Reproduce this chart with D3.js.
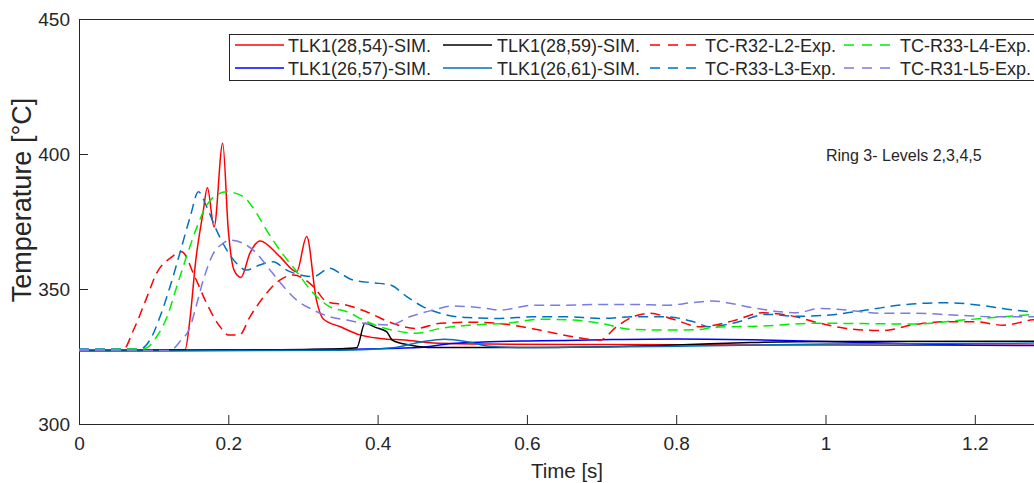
<!DOCTYPE html>
<html><head><meta charset="utf-8">
<script src="https://cdn.jsdelivr.net/npm/d3@7"></script>
<style>
html,body{margin:0;padding:0;background:#fff;overflow:hidden}
text{font-family:"Liberation Sans",Arial,Helvetica,sans-serif;fill:#262626}
</style></head>
<body>
<svg id="chart" width="1034" height="483"></svg>
<script>
// ---- data (time in s, temperature in °C) ----
const xTicks = [0, 0.2, 0.4, 0.6, 0.8, 1, 1.2];
const yTicks = [300, 350, 400, 450];

const t_sim_28_54 = [0, 0.10, 0.142, 0.149, 0.156, 0.166, 0.172, 0.181, 0.1925, 0.2, 0.2077, 0.217, 0.229, 0.2425, 0.269, 0.2916, 0.305, 0.318, 0.327, 0.35, 0.376, 0.403, 0.44, 0.475, 0.55, 0.7, 0.9, 1.1, 1.3];
const v_sim_28_54 = [327.3, 327.4, 327.5, 339.7, 359.6, 378, 387.5, 373, 404, 371.8, 357, 354.3, 363.3, 367.8, 362, 356.4, 369.4, 346, 339, 336, 333, 331.7, 331, 330, 329.6, 329.4, 329.3, 329.2, 329.2];

const t_sim_26_57 = [0, 0.3, 0.45, 0.5, 0.55, 0.62, 0.7, 0.8, 0.9, 1.0, 1.1, 1.2, 1.3];
const v_sim_26_57 = [327.2, 327.5, 328.2, 329.8, 330.5, 330.8, 331.2, 331.5, 331.2, 330.6, 329.8, 329.2, 329];

const t_sim_28_59 = [0, 0.2, 0.35, 0.372, 0.383, 0.397, 0.412, 0.42, 0.443, 0.475, 0.6, 0.8, 0.9, 1.0, 1.3];
const v_sim_28_59 = [327.2, 327.4, 327.9, 328.2, 337.3, 335.8, 334.2, 331, 329.3, 328.3, 328.3, 329.3, 330.2, 330.6, 330.7];

const t_sim_26_61 = [0, 0.35, 0.42, 0.46, 0.49, 0.52, 0.55, 0.6, 0.8, 1.0, 1.3];
const v_sim_26_61 = [327, 327.3, 328.2, 330.5, 331.4, 330.5, 328.8, 328.3, 328.8, 329.6, 330];

const t_R32_L2 = [0, 0.059, 0.073, 0.091, 0.104, 0.122, 0.1375, 0.155, 0.171, 0.189, 0.2, 0.215, 0.229, 0.247, 0.269, 0.287, 0.314, 0.332, 0.359, 0.385, 0.42, 0.452, 0.484, 0.528, 0.573, 0.617, 0.662, 0.698, 0.72, 0.742, 0.765, 0.796, 0.832, 0.876, 0.916, 0.952, 0.993, 1.028, 1.077, 1.117, 1.162, 1.2, 1.238, 1.278, 1.3];
const v_R32_L2 = [327.5, 327.5, 334.8, 347, 355.9, 361.4, 363.8, 354.6, 344.7, 336, 333, 333, 339.7, 347, 353.3, 355.2, 350.9, 345.3, 344, 341.6, 337.3, 335.4, 337.3, 337.7, 336.9, 334.8, 332.3, 331.1, 336, 339.7, 341, 338.8, 336, 338.2, 341.2, 340.2, 337.3, 335.4, 334.6, 336.7, 337.9, 337.9, 336.6, 338.6, 339];

const t_R33_L3 = [0, 0.082, 0.095, 0.1085, 0.122, 0.135, 0.149, 0.16, 0.171, 0.184, 0.198, 0.211, 0.2246, 0.242, 0.26, 0.278, 0.296, 0.314, 0.336, 0.35, 0.367, 0.394, 0.417, 0.439, 0.461, 0.484, 0.52, 0.564, 0.609, 0.653, 0.698, 0.742, 0.787, 0.823, 0.845, 0.876, 0.921, 0.961, 1.006, 1.055, 1.109, 1.162, 1.207, 1.243, 1.274, 1.3];
const v_R33_L3 = [327.8, 327.8, 331.1, 339.7, 350.9, 363.2, 376.8, 386, 380.5, 371.9, 364.4, 359.5, 357, 358.9, 360.1, 357, 355.2, 354.6, 357.7, 355.8, 353.3, 352.3, 351.5, 347.2, 343.4, 341, 339.4, 339.1, 339.7, 339.7, 339.1, 339.7, 339.7, 337.9, 336, 337.3, 340.6, 339.9, 340.4, 342.2, 344.3, 344.9, 344, 342.5, 341.6, 341];

const t_R33_L4 = [0, 0.086, 0.104, 0.118, 0.131, 0.144, 0.158, 0.171, 0.184, 0.198, 0.22, 0.238, 0.251, 0.269, 0.2916, 0.314, 0.336, 0.359, 0.381, 0.403, 0.42, 0.452, 0.484, 0.528, 0.573, 0.618, 0.662, 0.698, 0.742, 0.787, 0.832, 0.849, 0.916, 0.984, 1.05, 1.117, 1.184, 1.229, 1.27, 1.3];
const v_R33_L4 = [327.5, 327.8, 332.3, 339.7, 350.9, 362, 373, 381, 384.8, 386, 384.2, 378, 371.9, 364.4, 356.4, 348.4, 343.4, 341.6, 338.5, 336, 334.8, 333.6, 335.4, 336.7, 337.3, 338.8, 338.5, 337.3, 335, 334.8, 335, 335.8, 336.3, 337.3, 337.2, 337, 338.5, 339.5, 340.4, 340.8];

const t_R31_L5 = [0, 0.122, 0.135, 0.149, 0.158, 0.1665, 0.18, 0.193, 0.202, 0.22, 0.238, 0.256, 0.274, 0.2916, 0.314, 0.336, 0.359, 0.381, 0.417, 0.443, 0.475, 0.501, 0.546, 0.564, 0.609, 0.653, 0.698, 0.742, 0.787, 0.823, 0.849, 0.872, 0.908, 0.939, 0.961, 0.993, 1.028, 1.073, 1.117, 1.171, 1.229, 1.3];
const v_R31_L5 = [327.2, 327.2, 330.5, 336, 344.7, 353.3, 363.2, 366.9, 368.1, 366.9, 363.2, 357, 350.9, 345.9, 342.2, 339.7, 338.5, 337.3, 336.7, 339.7, 342.2, 343.7, 342.8, 342.2, 344, 344, 344.3, 344.3, 344, 345, 345.6, 344.7, 342.8, 341.6, 341.2, 342.8, 342.2, 341, 341, 340.4, 339.7, 339.7];

const seriesNames = ["TLK1(28,54)-SIM.", "TLK1(26,57)-SIM.", "TLK1(28,59)-SIM.", "TLK1(26,61)-SIM.",
                     "TC-R32-L2-Exp.", "TC-R33-L3-Exp.", "TC-R33-L4-Exp.", "TC-R31-L5-Exp."];
const seriesColors = ["#ff0000", "#0000ff", "#000000", "#0072bd", "#ff0000", "#0072bd", "#00ee00", "#7b7be0"];
const seriesDashed = [false, false, false, false, true, true, true, true];
const seriesT = [t_sim_28_54, t_sim_26_57, t_sim_28_59, t_sim_26_61, t_R32_L2, t_R33_L3, t_R33_L4, t_R31_L5];
const seriesV = [v_sim_28_54, v_sim_26_57, v_sim_28_59, v_sim_26_61, v_R32_L2, v_R33_L3, v_R33_L4, v_R31_L5];

// ---- layout ----
const svg = d3.select("#chart");
const L = 79, T = 19, B = 424;
const x = d3.scaleLinear().domain([0, 1.3]).range([L, L + 1.3 * 746.5]);
const y = d3.scaleLinear().domain([300, 450]).range([B, T]);
const R = x(1.3);

svg.append("defs").append("clipPath").attr("id", "clip")
  .append("rect").attr("x", L).attr("y", T).attr("width", R - L).attr("height", B - T);

// axes
const axColor = "#262626";
const gx = svg.append("g").attr("transform", `translate(0,${B})`)
  .call(d3.axisBottom(x).tickValues(xTicks).tickSize(-9).tickPadding(13).tickFormat(d3.format("")));
const gy = svg.append("g").attr("transform", `translate(${L},0)`)
  .call(d3.axisLeft(y).tickValues(yTicks).tickSize(-9).tickPadding(9));
[gx, gy].forEach(g => {
  g.select(".domain").attr("stroke", axColor).attr("stroke-width", 1);
  g.selectAll(".tick line").attr("stroke", axColor).attr("stroke-width", 1);
  g.selectAll(".tick text").style("font-size", "19px").attr("fill", axColor)
    .style("font-family", '"Liberation Sans",Arial,sans-serif');
});
// top border
svg.append("line").attr("x1", L).attr("x2", R).attr("y1", T + 0.5).attr("y2", T + 0.5)
  .attr("stroke", axColor).attr("stroke-width", 1);

// axis labels
svg.append("text").attr("x", 567).attr("y", 478).attr("text-anchor", "middle")
  .style("font-size", "20.5px").text("Time [s]");
svg.append("text").attr("transform", `translate(31,200) rotate(-90)`)
  .attr("text-anchor", "middle").style("font-size", "27px").text("Temperature [°C]");

// lines
const line = d3.line().x(d => x(d[0])).y(d => y(d[1])).curve(d3.curveMonotoneX);
const plot = svg.append("g").attr("clip-path", "url(#clip)");
seriesT.forEach((ts, i) => {
  const pts = ts.map((t, k) => [t, seriesV[i][k]]);
  plot.append("path").datum(pts).attr("d", line).attr("fill", "none")
    .attr("stroke", seriesColors[i]).attr("stroke-width", 1.5)
    .attr("stroke-dasharray", seriesDashed[i] ? "10,6" : null);
});

// annotation
svg.append("text").attr("x", 826).attr("y", 161).style("font-size", "16px").text("Ring 3- Levels 2,3,4,5");

// legend
const lg = svg.append("g");
lg.append("rect").attr("x", 229.5).attr("y", 34.5).attr("width", 840).attr("height", 46)
  .attr("fill", "#fff").attr("stroke", axColor).attr("stroke-width", 1);
const colLineX = [235, 443, 650, 844];
const colTextX = [288, 497, 705, 900];
const rowY = [45, 68];
// [series index, column, row]
const legendSlots = [[0, 0, 0], [1, 0, 1], [2, 1, 0], [3, 1, 1], [4, 2, 0], [5, 2, 1], [6, 3, 0], [7, 3, 1]];
legendSlots.forEach(([i, c, r]) => {
  const gi = lg.append("g");
  gi.append("line").attr("x1", colLineX[c]).attr("x2", colLineX[c] + 49)
    .attr("y1", rowY[r]).attr("y2", rowY[r])
    .attr("stroke", seriesColors[i]).attr("stroke-width", 1.5)
    .attr("stroke-dasharray", seriesDashed[i] ? "10,8" : null);
  gi.append("text").attr("x", colTextX[c]).attr("y", rowY[r] + 6.5)
    .style("font-size", "18px").text(seriesNames[i]);
});
</script>
</body></html>
